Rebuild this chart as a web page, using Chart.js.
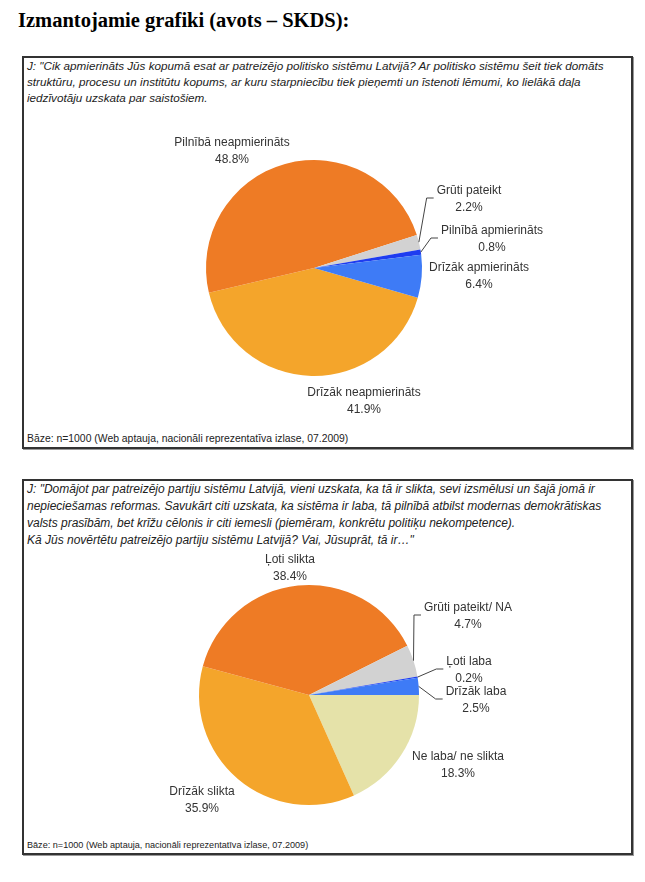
<!DOCTYPE html>
<html>
<head>
<meta charset="utf-8">
<script src="https://cdn.jsdelivr.net/npm/chart.js@4"></script>
<style>
  body { margin: 0; background: #fff; width: 645px; height: 882px; position: relative; overflow: hidden; }
  .title { position: absolute; left: 18px; top: 9px; font: bold 20.5px "Liberation Serif", "Times New Roman", serif; color: #000; }
  .box { position: absolute; left: 22px; width: 607px; border: 2px solid #333; box-shadow: 1px 1px 0 #999; }
  .q { position: absolute; left: 3px; top: 0px; font: italic 11.7px "Liberation Sans", Arial, sans-serif; color: #222; line-height: 16px; white-space: nowrap; }
  .base { position: absolute; left: 3px; font: 10.4px "Liberation Sans", Arial, sans-serif; color: #222; white-space: nowrap; }
  canvas { position: absolute; left: 0; }
</style>
</head>
<body>
<div class="title">Izmantojamie grafiki (avots – SKDS):</div>

<div class="box" style="top:56px;height:389px;">
  <div class="q">J: "Cik apmierināts Jūs kopumā esat ar patreizējo politisko sistēmu Latvijā? Ar politisko sistēmu šeit tiek domāts<br>struktūru, procesu un institūtu kopums, ar kuru starpniecību tiek pieņemti un īstenoti lēmumi, ko lielākā daļa<br>iedzīvotāju uzskata par saistošiem.</div>
  <canvas id="pie1" width="607" height="320" style="top:50px;"></canvas>
  <div class="base" style="top:375px;">Bāze: n=1000 (Web aptauja, nacionāli reprezentatīva izlase, 07.2009)</div>
</div>

<div class="box" style="top:479px;height:372px;">
  <div class="q" style="font-size:12px;line-height:17px;">J: "Domājot par patreizējo partiju sistēmu Latvijā, vieni uzskata, ka tā ir slikta, sevi izsmēlusi un šajā jomā ir<br>nepieciešamas reformas. Savukārt citi uzskata, ka sistēma ir laba, tā pilnībā atbilst modernas demokrātiskas<br>valsts prasībām, bet krīžu cēlonis ir citi iemesli (piemēram, konkrētu politiķu nekompetence).<br>Kā Jūs novērtētu patreizējo partiju sistēmu Latvijā? Vai, Jūsuprāt, tā ir…"</div>
  <canvas id="pie2" width="607" height="292" style="top:65px;"></canvas>
  <div class="base" style="top:359px;font-size:9.1px;">Bāze: n=1000 (Web aptauja, nacionāli reprezentatīva izlase, 07.2009)</div>
</div>

<script>
// Chart 1: apmierinātība ar politisko sistēmu (%)
const labels1 = ['Drīzāk neapmierināts', 'Pilnībā neapmierināts', 'Grūti pateikt', 'Pilnībā apmierināts', 'Drīzāk apmierināts'];
const values1 = [41.9, 48.8, 2.2, 0.8, 6.4];
const colors1 = ['#F4A52B', '#EE7B25', '#D2D2D2', '#1E3CF0', '#3E7BF6'];

// Chart 2: partiju sistēmas vērtējums (%)
const labels2 = ['Ne laba/ ne slikta', 'Drīzāk slikta', 'Ļoti slikta', 'Grūti pateikt/ NA', 'Ļoti laba', 'Drīzāk laba'];
const values2 = [18.3, 35.9, 38.4, 4.7, 0.2, 2.5];
const colors2 = ['#E5E2A9', '#F4A52B', '#EE7B25', '#D2D2D2', '#1E3CF0', '#3E7BF6'];

// label offsets from pie centre, [dx, dy, leader line]
const place1 = [[50, 125], [-82, -125], [155, -77, true], [178, -37, true], [165, 0]];
const place2 = [[149, 62], [-107, 97], [-19, -135], [159, -87, true], [160, -33, true], [167, -3, true]];

const pieLabels = {
  id: 'pieLabels',
  afterDatasetsDraw(chart, args, opts) {
    const ctx = chart.ctx;
    const meta = chart.getDatasetMeta(0);
    const vals = chart.data.datasets[0].data;
    ctx.save();
    ctx.font = '12px "Liberation Sans", Arial, sans-serif';
    ctx.fillStyle = '#333';
    ctx.strokeStyle = '#444';
    ctx.lineWidth = 1;
    ctx.textAlign = 'center';
    ctx.textBaseline = 'middle';
    meta.data.forEach((arc, i) => {
      const p = opts.place[i];
      const x = arc.x + p[0];
      const y = arc.y + p[1];
      const name = chart.data.labels[i];
      ctx.fillText(name, x, y);
      ctx.fillText(vals[i].toFixed(1) + '%', x, y + 17);
      if (p[2]) {
        const mid = (arc.startAngle + arc.endAngle) / 2;
        const sx = arc.x + Math.cos(mid) * arc.outerRadius;
        const sy = arc.y + Math.sin(mid) * arc.outerRadius;
        const left = x - ctx.measureText(name).width / 2;
        ctx.beginPath();
        ctx.moveTo(sx, sy);
        ctx.lineTo(left - 10, y + 7);
        ctx.lineTo(left - 3, y + 7);
        ctx.stroke();
      }
    });
    ctx.restore();
  }
};

function makePie(id, labels, values, colors, place, rotation, radius, padding) {
  new Chart(document.getElementById(id), {
    type: 'pie',
    data: {
      labels: labels,
      datasets: [{ data: values, backgroundColor: colors, borderWidth: 0 }]
    },
    options: {
      responsive: false,
      animation: false,
      rotation: rotation,
      radius: radius,
      layout: { padding: padding },
      plugins: {
        legend: { display: false },
        tooltip: { enabled: false },
        pieLabels: { place: place }
      }
    },
    plugins: [pieLabels]
  });
}

makePie('pie1', labels1, values1, colors1, place1, 106, 108, { left: 0, right: 27, top: 0, bottom: 0 });
makePie('pie2', labels2, values2, colors2, place2, 90, 110, { left: 0, right: 37, top: 6, bottom: 0 });
</script>
</body>
</html>
